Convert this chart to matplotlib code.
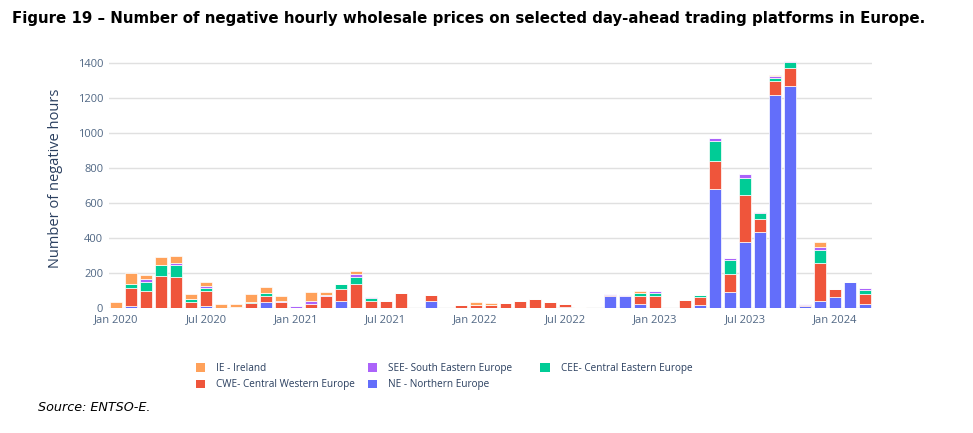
import matplotlib
matplotlib.use('Agg')
from matplotlib import pyplot as plt
from matplotlib.patches import Patch
import numpy as np

# Monthly counts of negative hours, Jan 2020 .. Mar 2024 (51 months).
ne = [0, 12, 0, 0, 0, 0, 12, 0, 0, 0,
      38, 3, 0, 0, 0, 40, 0, 0, 0, 0,
      0, 44, 0, 0, 0, 0, 0, 0, 0, 0,
      8, 0, 3, 72, 72, 22, 3, 0, 0, 18,
      682, 95, 381, 438, 1217, 1269, 15, 40, 63, 152, 23]
cwe = [0, 104, 101, 185, 177, 34, 86, 3, 8, 29,
       32, 35, 0, 25, 72, 70, 137, 44, 44, 90,
       0, 32, 0, 19, 18, 18, 29, 44, 55, 36,
       14, 10, 0, 4, 0, 50, 65, 0, 50, 45,
       162, 99, 265, 71, 82, 106, 5, 221, 47, 0, 57]
cee = [0, 21, 51, 63, 73, 17, 19, 0, 0, 9,
       16, 0, 0, 0, 0, 27, 44, 15, 0, 0,
       0, 0, 0, 0, 0, 0, 0, 0, 0, 0,
       0, 0, 0, 0, 0, 14, 18, 0, 0, 13,
       110, 80, 97, 34, 19, 35, 0, 72, 0, 0, 25]
see = [0, 4, 14, 0, 6, 0, 10, 0, 0, 0,
       0, 4, 13, 15, 5, 2, 15, 4, 0, 0,
       0, 0, 0, 0, 0, 0, 0, 0, 0, 0,
       3, 0, 0, 3, 4, 4, 14, 0, 0, 2,
       19, 16, 25, 9, 8, 3, 3, 16, 0, 0, 9]
ie = [38, 59, 23, 43, 42, 33, 22, 20, 16, 42,
      34, 28, 2, 53, 16, 0, 15, 0, 0, 0,
      0, 0, 0, 0, 16, 14, 0, 0, 0, 0,
      0, 0, 0, 5, 0, 10, 0, 0, 0, 0,
      0, 0, 0, 0, 7, 0, 0, 32, 0, 0, 0]

tick_labels = ['Jan 2020', 'Jul 2020', 'Jan 2021', 'Jul 2021', 'Jan 2022',
               'Jul 2022', 'Jan 2023', 'Jul 2023', 'Jan 2024']

# Stack order bottom -> top
series = [
    ('NE - Northern Europe', ne, '#636EFA'),
    ('CWE- Central Western Europe', cwe, '#EF553B'),
    ('CEE- Central Eastern Europe', cee, '#00CC96'),
    ('SEE- South Eastern Europe', see, '#AB63FA'),
    ('IE - Ireland', ie, '#FFA15A'),
]
colors = {name: c for name, _, c in series}

text_col = '#2a3f5f'
tick_col = '#506784'

fig = plt.figure(figsize=(9.73, 4.33), dpi=100)
ax = fig.add_axes([0.1118, 0.2880, 0.7847, 0.5965])

x = np.arange(len(ne))
bottom = np.zeros(len(ne))
for name, vals, col in series:
    vals = np.array(vals, dtype=float)
    ax.bar(x, vals, width=0.8, bottom=bottom, color=col,
           edgecolor='white', linewidth=0.5, zorder=3)
    bottom += vals

ax.set_xlim(-0.5, len(ne) - 0.5)
ax.set_ylim(0, 1476)
ax.set_yticks(range(0, 1401, 200))
ax.set_xticks(range(0, len(ne), 6))
ax.set_xticklabels(tick_labels)
ax.grid(axis='y', color='#e0e0e0', linewidth=1, zorder=0)
for s in ax.spines.values():
    s.set_visible(False)
ax.tick_params(length=0, labelsize=8, labelcolor=tick_col)
ax.tick_params(axis='x', pad=4)
ax.tick_params(axis='y', pad=4)
for lab in ax.get_xticklabels() + ax.get_yticklabels():
    lab.set_fontfamily('Open Sans')

fig.text(0.057, 0.588, 'Number of negative hours', rotation=90,
         ha='center', va='center', fontsize=10.5, color=text_col,
         family='Open Sans')

fig.text(0.012, 0.958, 'Figure 19 \u2013 Number of negative hourly wholesale '
         'prices on selected day-ahead trading platforms in Europe.',
         ha='left', va='center', fontsize=10.85, fontweight='bold',
         family='DejaVu Sans', color='black')

fig.text(0.039, 0.060, 'Source: ENTSO-E.', ha='left', va='center',
         fontsize=9.2, style='italic', family='DejaVu Sans', color='black')

# Legend: three columns placed like the original
columns = [
    (0.201, ['IE - Ireland', 'CWE- Central Western Europe']),
    (0.378, ['SEE- South Eastern Europe', 'NE - Northern Europe']),
    (0.555, ['CEE- Central Eastern Europe']),
]
for xpos, names in columns:
    handles = [Patch(facecolor=colors[n], edgecolor='none') for n in names]
    fig.legend(handles, names, loc='upper left', bbox_to_anchor=(xpos, 0.162),
               frameon=False, ncol=1, handlelength=0.95, handleheight=0.95,
               handletextpad=1.1, labelspacing=0.55, borderaxespad=0,
               borderpad=0, prop={'family': 'Open Sans', 'size': 7.2},
               labelcolor=text_col)

fig.savefig('out.png', dpi=100)
